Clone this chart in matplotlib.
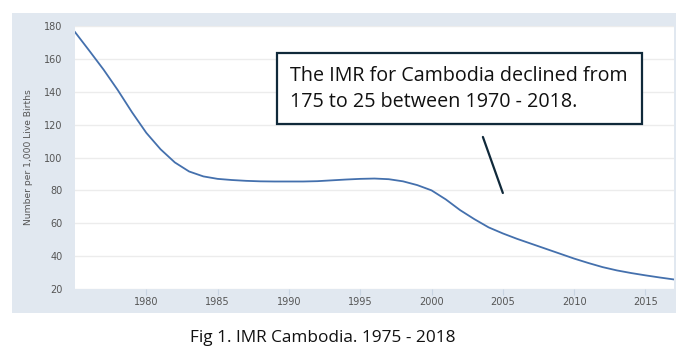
import matplotlib
matplotlib.use("Agg")
from matplotlib import pyplot as plt
from matplotlib.patches import Rectangle

# infant mortality rate, Cambodia (per 1,000 live births)
years = list(range(1975, 2018))
imr = [176.3, 165, 153.5, 141, 127.5, 115, 105, 97, 91.5, 88.5,
       87, 86.3, 85.8, 85.5, 85.4, 85.4, 85.4, 85.6, 86.1, 86.6,
       87, 87.2, 86.8, 85.5, 83.2, 80, 74.5, 68, 62.5, 57.5,
       53.8, 50.5, 47.5, 44.5, 41.5, 38.5, 35.8, 33.3, 31.3, 29.7,
       28.3, 27, 25.8]

x_ticks = [1980, 1985, 1990, 1995, 2000, 2005, 2010, 2015]
y_ticks = [20, 40, 60, 80, 100, 120, 140, 160, 180]

note = "The IMR for Cambodia declined from\n175 to 25 between 1970 - 2018."
caption = "Fig 1. IMR Cambodia. 1975 - 2018"

fig = plt.figure(figsize=(6.8, 3.57), dpi=100)
fig.patch.set_facecolor("white")

# grey-blue panel behind the plot
fig.patches.append(Rectangle((12/680, 1-313/357), 664/680, 300/357,
                             transform=fig.transFigure, facecolor="#e1e8f0",
                             edgecolor="none", zorder=-5))

ax = fig.add_axes([75/680, 1-289/357, 599/680, 263/357])
ax.set_zorder(1)
ax.set_facecolor("white")
ax.plot(years, imr, color="#4470ad", linewidth=1.3, zorder=3)

ax.set_xlim(1975, 2017)
ax.set_ylim(20, 180)
ax.set_xticks(x_ticks)
ax.set_yticks(y_ticks)
ax.tick_params(axis="x", length=4, color="#c9d5e3", labelsize=7, labelcolor="#555555", pad=2)
ax.tick_params(axis="y", length=0, labelsize=7, labelcolor="#555555", pad=9)
ax.grid(axis="y", color="#ececec", linewidth=1)
ax.set_axisbelow(True)
for s in ax.spines.values():
    s.set_visible(False)
ax.set_ylabel("Number per 1,000 Live Births", fontsize=6.6, color="#555555", labelpad=8)

# pointer line to the curve
ax.annotate("", xy=(2005, 78.4), xytext=(2003.6, 112.5),
            arrowprops=dict(arrowstyle="-", color="#10293a", lw=1.6, shrinkA=0, shrinkB=0))

# callout box
fig.patches.append(Rectangle((277/680, 1-124/357), 365/680, 71/357,
                             transform=fig.transFigure, facecolor="white",
                             edgecolor="#10293a", linewidth=1.6, zorder=5))
fig.text(290/680, 1-89/357, note, fontsize=14.2, family="Open Sans",
         color="#111111", va="center", ha="left", linespacing=1.35, zorder=6)

fig.text(323/680, 1-338/357, caption, fontsize=12.4, family="Open Sans",
         color="#111111", ha="center", va="center")

fig.savefig("out.png", dpi=100)
